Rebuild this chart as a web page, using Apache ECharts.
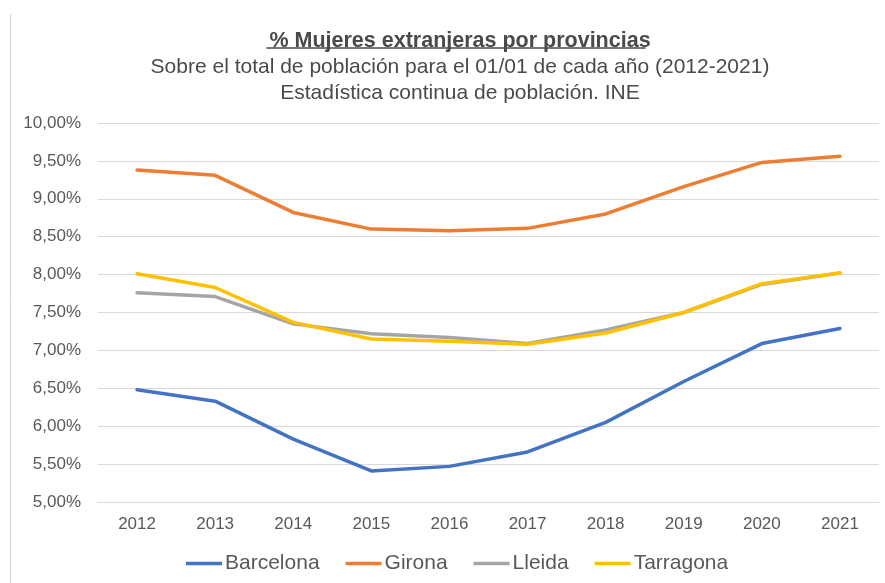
<!DOCTYPE html>
<html>
<head>
<meta charset="utf-8">
<script src="https://cdn.jsdelivr.net/npm/echarts@6/dist/echarts.min.js"></script>
<style>
  html, body { margin: 0; padding: 0; background: #fff; }
  #chart { width: 885px; height: 583px; }
</style>
</head>
<body>
<div id="chart"></div>
<script>
  // años del padrón (01/01)
  const years = ['2012', '2013', '2014', '2015', '2016', '2017', '2018', '2019', '2020', '2021'];

  // % mujeres extranjeras por provincia
  const barcelona = [6.48, 6.33, 5.83, 5.41, 5.47, 5.66, 6.05, 6.59, 7.09, 7.29];
  const girona    = [9.38, 9.31, 8.82, 8.60, 8.58, 8.61, 8.80, 9.16, 9.48, 9.56];
  const lleida    = [7.76, 7.71, 7.35, 7.22, 7.17, 7.09, 7.27, 7.50, 7.87, 8.02];
  const tarragona = [8.01, 7.83, 7.37, 7.15, 7.12, 7.08, 7.23, 7.50, 7.88, 8.02];

  const seriesNames  = ['Barcelona', 'Girona', 'Lleida', 'Tarragona'];
  const seriesData   = [barcelona, girona, lleida, tarragona];
  const seriesColors = ['#4472C4', '#ED7D31', '#A5A5A5', '#FFC000'];

  const font = '"Liberation Sans", Arial, sans-serif';
  const titleText = '% Mujeres extranjeras por provincias';
  const titleX = 455;
  const titleSize = 21.5;

  // ancho del título para el subrayado
  let ctx = document.createElement('canvas').getContext('2d');
  ctx.font = 'bold ' + titleSize + 'px ' + font;
  let tw = ctx.measureText(titleText).width;

  let chart = echarts.init(document.getElementById('chart'));

  chart.setOption({
    backgroundColor: '#fff',
    animation: false,
    textStyle: { fontFamily: font },
    title: [
      {
        text: titleText,
        left: titleX, top: 25, textAlign: 'center',
        textStyle: { fontFamily: font, fontSize: titleSize, fontWeight: 'bold', color: '#4a4a4a' }
      },
      {
        text: 'Sobre el total de población para el 01/01 de cada año (2012-2021)\nEstadística continua de población. INE',
        left: titleX, top: 49, textAlign: 'center',
        textStyle: { fontFamily: font, fontSize: 21, fontWeight: 'normal', color: '#4a4a4a', lineHeight: 26 }
      }
    ],
    graphic: [
      // subrayado del título
      { type: 'line', shape: { x1: titleX - tw / 2 + 2, y1: 48, x2: titleX + tw / 2, y2: 48 }, style: { stroke: '#4a4a4a', lineWidth: 1.5 } },
      // borde izquierdo del gráfico
      { type: 'line', shape: { x1: 10.5, y1: 14, x2: 10.5, y2: 583 }, style: { stroke: '#d9d9d9', lineWidth: 1 } }
    ],
    grid: { left: 98, right: 6, top: 123, bottom: 81 },
    legend: {
      top: 548, left: 181,
      data: seriesNames,
      icon: 'rect',
      itemWidth: 36, itemHeight: 3.5,
      itemGap: 26,
      textStyle: { fontFamily: font, fontSize: 21, color: '#595959', padding: [0, 0, 0, -2] }
    },
    xAxis: {
      type: 'category',
      data: years,
      boundaryGap: true,
      axisLine: { lineStyle: { color: '#d9d9d9' } },
      axisTick: { show: false },
      axisLabel: { fontFamily: font, fontSize: 17, color: '#595959', margin: 14 }
    },
    yAxis: {
      type: 'value',
      min: 5, max: 10, interval: 0.5,
      axisLine: { show: false },
      axisTick: { show: false },
      splitLine: { lineStyle: { color: '#d9d9d9', width: 1 } },
      axisLabel: {
        fontFamily: font, fontSize: 17, color: '#595959', margin: 17,
        formatter: v => v.toFixed(2).replace('.', ',') + '%'
      }
    },
    series: seriesNames.map((name, i) => ({
      name: name,
      type: 'line',
      data: seriesData[i],
      color: seriesColors[i],
      symbol: 'none',
      lineStyle: { width: 3.5, color: seriesColors[i], cap: 'round', join: 'round' }
    }))
  });
</script>
</body>
</html>
